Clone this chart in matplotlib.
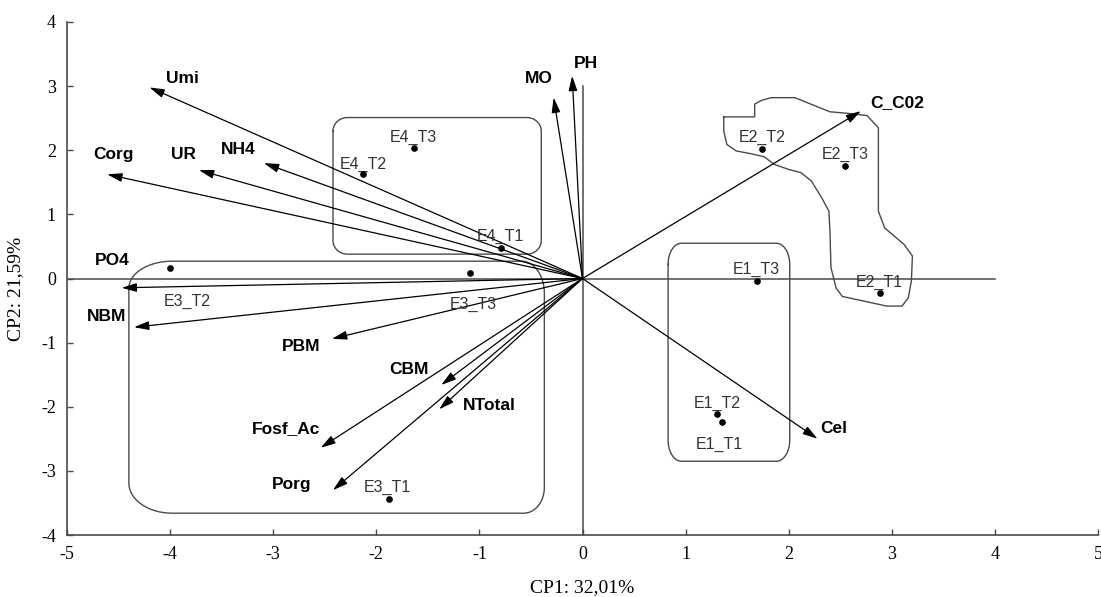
import numpy as np
import matplotlib
matplotlib.use("Agg")
import matplotlib.pyplot as plt
from matplotlib.patches import FancyArrowPatch

plt.rcParams['axes.unicode_minus'] = False

# variaveis (cargas no CP1 / CP2)
var_nomes = ['Umi', 'Corg', 'UR', 'NH4', 'MO', 'PH', 'PO4', 'NBM', 'PBM',
             'CBM', 'NTotal', 'Fosf_Ac', 'Porg', 'C_C02', 'Cel']
var_cp1 = [-4.20, -4.61, -3.72, -3.09, -0.28, -0.10, -4.47, -4.35, -2.43,
           -1.37, -1.39, -2.54, -2.42, 2.70, 2.28]
var_cp2 = [2.98, 1.625, 1.69, 1.80, 2.82, 3.16, -0.145, -0.76, -0.94,
           -1.66, -2.04, -2.64, -3.30, 2.61, -2.50]

# amostras (escores)
amostra_nomes = ['E1_T1', 'E1_T2', 'E1_T3', 'E2_T1', 'E2_T2', 'E2_T3',
                 'E3_T1', 'E3_T2', 'E3_T3', 'E4_T1', 'E4_T2', 'E4_T3']
amostra_cp1 = [1.35, 1.30, 1.69, 2.89, 1.74, 2.55,
               -1.88, -4.00, -1.09, -0.795, -2.13, -1.635]
amostra_cp2 = [-2.24, -2.12, -0.04, -0.23, 2.02, 1.755,
               -3.44, 0.17, 0.08, 0.47, 1.63, 2.03]

# onde escrever cada nome
var_texto_pos = [(-3.88, 3.135), (-4.55, 1.95), (-3.87, 1.96), (-3.34, 2.03),
                 (-0.42, 3.135), (0.03, 3.37), (-4.56, 0.30), (-4.62, -0.57),
                 (-2.73, -1.03), (-1.68, -1.40), (-0.905, -1.95), (-2.88, -2.32),
                 (-2.82, -3.19), (3.05, 2.76), (2.44, -2.32)]
amostra_texto_pos = [(1.325, -2.56), (1.305, -1.92), (1.69, 0.16), (2.88, -0.03),
                     (1.745, 2.22), (2.55, 1.96), (-1.89, -3.24), (-3.83, -0.34),
                     (-1.06, -0.375), (-0.80, 0.675), (-2.13, 1.81), (-1.64, 2.22)]

# contornos dos grupos: (xmin, xmax, ymin, ymax) e raios dos cantos TL, TR, BR, BL
grupo_e3 = (-4.40, -0.37, -3.66, 0.27)
cantos_e3 = [(0.42, 0.42), (0.22, 0.50), (0.20, 0.40), (0.42, 0.47)]
grupo_e4 = (-2.42, -0.40, 0.38, 2.51)
cantos_e4 = [(0.14, 0.21)] * 4
grupo_e1 = (0.83, 2.01, -2.85, 0.55)
cantos_e1 = [(0.13, 0.33)] * 4

contorno_e2_x = [1.37, 1.67, 1.67, 1.74, 1.83, 2.06, 2.26, 2.40, 2.61, 2.76, 2.87,
                 2.87, 2.93, 3.12, 3.20, 3.19, 3.16, 3.10, 2.95, 2.75, 2.52, 2.46,
                 2.41, 2.40, 2.39, 2.32, 2.22, 2.12, 2.00, 1.86, 1.76, 1.62, 1.49,
                 1.40, 1.37, 1.37]
contorno_e2_y = [2.52, 2.52, 2.72, 2.78, 2.82, 2.82, 2.69, 2.60, 2.57, 2.54, 2.35,
                 1.05, 0.79, 0.53, 0.35, -0.04, -0.30, -0.43, -0.43, -0.36, -0.28, -0.15,
                 0.17, 0.74, 1.05, 1.26, 1.52, 1.65, 1.70, 1.78, 1.90, 1.95, 1.99,
                 2.09, 2.30, 2.52]


def CaixaArredondada(x0, x1, y0, y1, cantos, n=16):
    (tlx, tly), (trx, try_), (brx, bry), (blx, bly) = cantos
    xs, ys = [], []
    arcos = [((x0 + tlx, y1 - tly), tlx, tly, np.pi, np.pi / 2),
             ((x1 - trx, y1 - try_), trx, try_, np.pi / 2, 0),
             ((x1 - brx, y0 + bry), brx, bry, 0, -np.pi / 2),
             ((x0 + blx, y0 + bly), blx, bly, -np.pi / 2, -np.pi)]
    for (cx, cy), rx, ry, a0, a1 in arcos:
        t = np.linspace(a0, a1, n)
        xs.extend(cx + rx * np.cos(t))
        ys.extend(cy + ry * np.sin(t))
    xs.append(xs[0])
    ys.append(ys[0])
    return xs, ys


def main():
    fig = plt.figure(figsize=(11.01, 5.97), dpi=100)
    ax = fig.add_axes([67 / 1101, 62 / 597, 1031 / 1101, 513 / 597])
    ax.set_xlim(-5, 5)
    ax.set_ylim(-4, 4)

    cinza = '#4a4a4a'
    serif = 'Liberation Serif'
    sans = 'Liberation Sans'

    # eixos cartesianos internos
    ax.plot([-5, 4], [0, 0], color=cinza, lw=1.1, zorder=1)
    ax.plot([0, 0], [-4, 3], color=cinza, lw=1.1, zorder=1)

    # contornos dos grupos
    for caixa, cantos in [(grupo_e3, cantos_e3), (grupo_e4, cantos_e4), (grupo_e1, cantos_e1)]:
        xs, ys = CaixaArredondada(*caixa, cantos)
        ax.plot(xs, ys, color=cinza, lw=1.0, zorder=2)
    ax.plot(contorno_e2_x, contorno_e2_y, color=cinza, lw=1.0, zorder=2)

    # vetores das variaveis
    for nome, x, y, (tx, ty) in zip(var_nomes, var_cp1, var_cp2, var_texto_pos):
        seta = FancyArrowPatch((0, 0), (x, y),
                               arrowstyle='-|>,head_length=0.75,head_width=0.22',
                               mutation_scale=12, color='black', lw=0.9,
                               shrinkA=0, shrinkB=0, zorder=3)
        ax.add_patch(seta)
        ax.text(tx, ty, nome, ha='center', va='center_baseline',
                fontsize=12.5, fontweight='bold', family=sans, color='black')

    # escores das amostras
    ax.plot(amostra_cp1, amostra_cp2, 'o', color='black', ms=3.8, zorder=4)
    for nome, (tx, ty) in zip(amostra_nomes, amostra_texto_pos):
        ax.text(tx, ty, nome, ha='center', va='center_baseline',
                fontsize=11.5, family=sans, color='#333333')

    # aparencia dos eixos
    for lado in ['top', 'right']:
        ax.spines[lado].set_visible(False)
    for lado in ['left', 'bottom']:
        ax.spines[lado].set_color(cinza)
        ax.spines[lado].set_linewidth(1.2)
    ax.set_xticks(range(-5, 6))
    ax.set_yticks(range(-4, 5))
    ax.tick_params(direction='in', length=4, width=1, color=cinza,
                   labelsize=13, pad=8)
    for rotulo in ax.get_xticklabels() + ax.get_yticklabels():
        rotulo.set_family(serif)

    ax.set_xlabel('CP1: 32,01%', family=serif, fontsize=14)
    ax.set_ylabel('CP2: 21,59%', family=serif, fontsize=14)
    ax.xaxis.set_label_coords(0.5, -0.085)
    ax.yaxis.set_label_coords(-0.042, 0.48)

    fig.savefig('out.png', dpi=100)
    return 0


if __name__ == "__main__":
    SystemExit(main())
